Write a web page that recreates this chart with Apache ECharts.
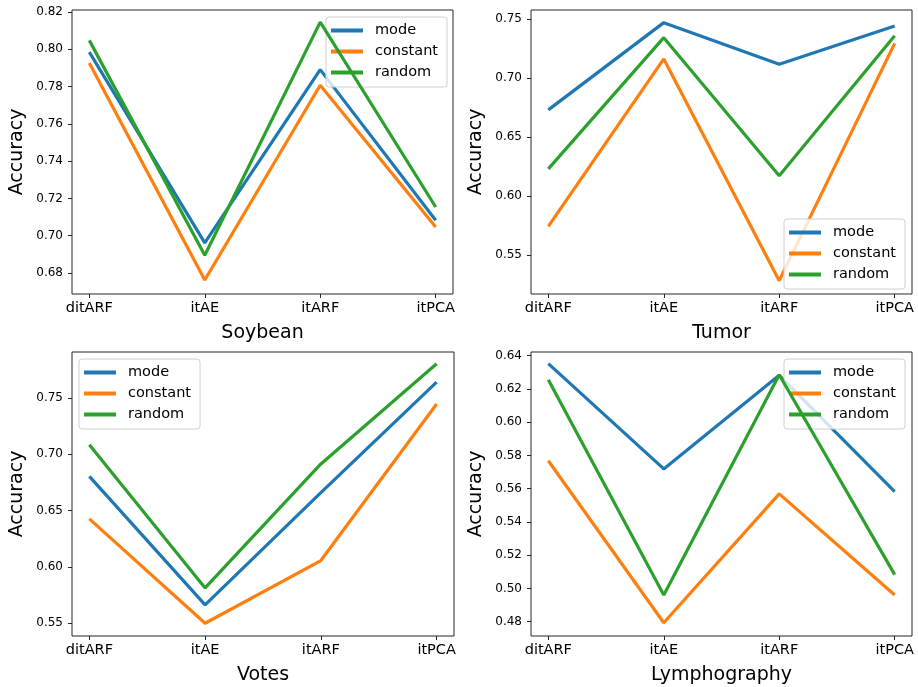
<!DOCTYPE html>
<html>
<head>
<meta charset="utf-8">
<script src="https://cdn.jsdelivr.net/npm/echarts@6/dist/echarts.min.js"></script>
<style>
html,body{margin:0;padding:0;background:#fff;}
#chart{width:918px;height:687px;}
</style>
</head>
<body>
<div id="chart"></div>
<script>
const categories = ['ditARF', 'itAE', 'itARF', 'itPCA'];
const seriesNames = ['mode', 'constant', 'random'];
const colors = ['#1f77b4', '#ff7f0e', '#2ca02c'];

// Soybean
const soybeanMode = [0.7985, 0.6961, 0.7891, 0.7083];
const soybeanConstant = [0.7926, 0.6762, 0.7807, 0.7047];
const soybeanRandom = [0.8048, 0.6895, 0.8146, 0.7154];
const soybeanTicks = [0.68, 0.70, 0.72, 0.74, 0.76, 0.78, 0.80, 0.82];

// Tumor
const tumorMode = [0.6731, 0.7469, 0.7117, 0.7441];
const tumorConstant = [0.5745, 0.7162, 0.5286, 0.7294];
const tumorRandom = [0.6232, 0.7342, 0.6173, 0.7359];
const tumorTicks = [0.55, 0.60, 0.65, 0.70, 0.75];

// Votes
const votesMode = [0.6804, 0.5663, 0.6660, 0.7642];
const votesConstant = [0.6427, 0.5500, 0.6057, 0.7447];
const votesRandom = [0.7085, 0.5814, 0.6915, 0.7805];
const votesTicks = [0.55, 0.60, 0.65, 0.70, 0.75];

// Lymphography
const lymphMode = [0.6352, 0.5719, 0.6282, 0.5583];
const lymphConstant = [0.5768, 0.4794, 0.5569, 0.4961];
const lymphRandom = [0.6255, 0.4961, 0.6285, 0.5083];
const lymphTicks = [0.48, 0.50, 0.52, 0.54, 0.56, 0.58, 0.60, 0.62, 0.64];

const panels = [
  {name: 'Soybean', data: [soybeanMode, soybeanConstant, soybeanRandom], ticks: soybeanTicks, min: 0.6687, max: 0.8211,
   grid: {left: 72, top: 10, width: 381, height: 284}, legend: {left: 326, top: 17}},
  {name: 'Tumor', data: [tumorMode, tumorConstant, tumorRandom], ticks: tumorTicks, min: 0.5173, max: 0.7576,
   grid: {left: 531, top: 10, width: 381, height: 284}, legend: {left: 784, top: 219}},
  {name: 'Votes', data: [votesMode, votesConstant, votesRandom], ticks: votesTicks, min: 0.5387, max: 0.7909,
   grid: {left: 72, top: 352, width: 382, height: 284}, legend: {left: 79, top: 359}},
  {name: 'Lymphography', data: [lymphMode, lymphConstant, lymphRandom], ticks: lymphTicks, min: 0.4714, max: 0.6422,
   grid: {left: 531, top: 352, width: 381, height: 284}, legend: {left: 784, top: 359}}
];

const font = 'DejaVu Sans';
const xTickValues = categories.map((c, j) => j);
const grids = [], xAxes = [], yAxes = [], series = [], legends = [];

panels.forEach((p, i) => {
  grids.push(Object.assign({show: true, borderColor: '#262626', borderWidth: 1, backgroundColor: 'transparent'}, p.grid));
  xAxes.push({
    type: 'value', gridIndex: i, min: -0.15, max: 3.15,
    name: p.name, nameLocation: 'middle', nameGap: 30,
    nameTextStyle: {fontFamily: font, fontSize: 19, color: '#000'},
    axisLine: {show: false, onZero: false},
    splitLine: {show: false},
    axisTick: {show: true, inside: false, length: 4, lineStyle: {color: '#262626', width: 1}, customValues: xTickValues},
    axisLabel: {fontFamily: font, fontSize: 14.5, color: '#000', margin: 7, customValues: xTickValues,
      formatter: v => categories[Math.round(v)]}
  });
  yAxes.push({
    type: 'value', gridIndex: i, min: p.min, max: p.max,
    name: 'Accuracy', nameLocation: 'middle', nameGap: 45,
    nameTextStyle: {fontFamily: font, fontSize: 19, color: '#000'},
    axisLine: {show: false, onZero: false},
    splitLine: {show: false},
    axisTick: {show: true, inside: false, length: 4, lineStyle: {color: '#262626', width: 1}, customValues: p.ticks},
    axisLabel: {fontFamily: font, fontSize: 12, color: '#000', margin: 9, customValues: p.ticks,
      formatter: v => v.toFixed(2)}
  });
  p.data.forEach((vals, k) => {
    series.push({
      type: 'line', name: seriesNames[k], xAxisIndex: i, yAxisIndex: i,
      data: vals.map((v, j) => [j, v]),
      symbol: 'none', lineStyle: {width: 3.2, color: colors[k]}, itemStyle: {color: colors[k]},
      z: 2 + k, animation: false
    });
  });
  legends.push({
    left: p.legend.left, top: p.legend.top, orient: 'vertical',
    data: seriesNames.map((n, k) => ({name: n, itemStyle: {color: colors[k]}})),
    icon: 'rect', itemWidth: 32, itemHeight: 4, itemGap: 6,
    padding: [6, 9, 7, 5],
    backgroundColor: 'rgba(255,255,255,0.8)', borderColor: '#d0d0d0', borderWidth: 1, borderRadius: 3,
    selectedMode: false,
    textStyle: {fontFamily: font, fontSize: 14.5, color: '#000', padding: [0, 0, 0, 7]}
  });
});

const chart = echarts.init(document.getElementById('chart'), null, {renderer: 'canvas'});
chart.setOption({
  backgroundColor: '#fff',
  animation: false,
  grid: grids, xAxis: xAxes, yAxis: yAxes, series: series, legend: legends
});
</script>
</body>
</html>
